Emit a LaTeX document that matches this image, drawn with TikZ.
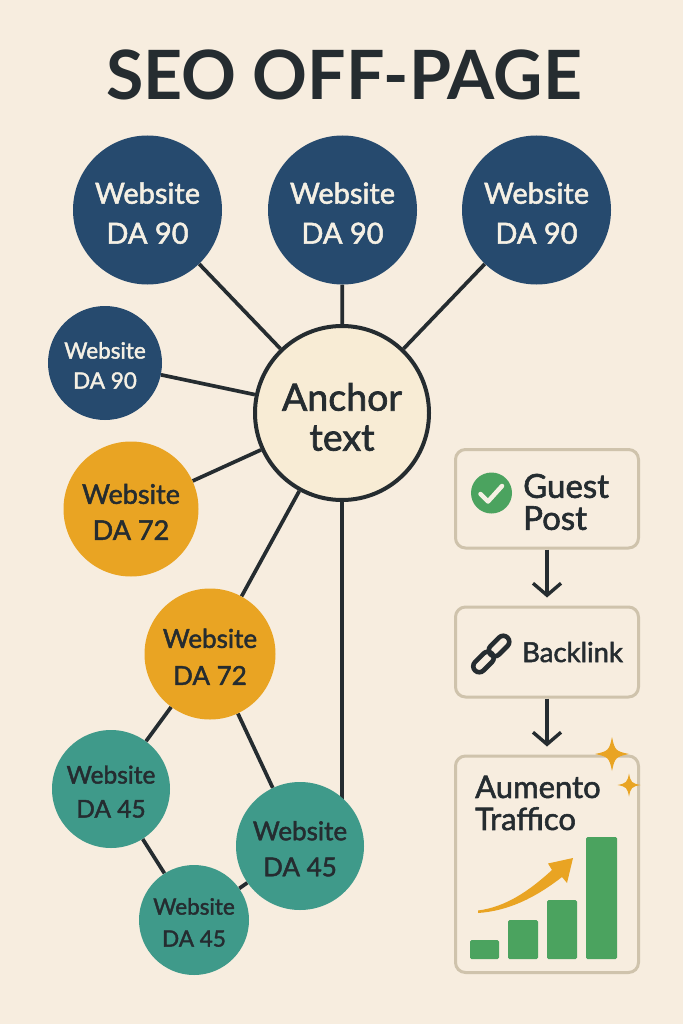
\documentclass[tikz,border=0pt]{standalone}
\usepackage{fontspec}
\setmainfont{Lato}
\newfontfamily\medfont{Lato}[FakeBold=1.8]
\usetikzlibrary{arrows.meta,backgrounds}
\definecolor{bgc}{HTML}{F7EDDF}
\definecolor{inkc}{HTML}{252C30}
\definecolor{navyc}{HTML}{264A6E}
\definecolor{orangec}{HTML}{E9A423}
\definecolor{tealc}{HTML}{3F9A8A}
\definecolor{greenc}{HTML}{4BA35F}
\definecolor{framec}{HTML}{CFC3AC}
\definecolor{anchorc}{HTML}{F8ECD5}
\definecolor{paletext}{HTML}{F5F0E4}
\tikzset{
  site/.style={circle,inner sep=0pt,align=center},
  navy/.style={site,fill=navyc,text=paletext},
  amber/.style={site,fill=orangec,text=inkc},
  teal/.style={site,fill=tealc,text=inkc},
  link/.style={draw=inkc,line width=3.7pt},
  stepbox/.style={draw=framec,line width=3pt,rounded corners=10pt,fill=bgc,anchor=north west,inner sep=0pt},
  flow/.style={draw=inkc,line width=3.4pt,-{Straight Barb[length=12pt,width=28pt,line width=3.4pt]},shorten >=8pt},
  label/.style={inner sep=0pt,text=inkc,align=left,anchor=west},
  bar/.style={fill=greenc,rounded corners=1.5pt},
  sparkle/.pic={\fill[orangec] (1,0) .. controls (.22,.16) and (.16,.22) .. (0,1)
     .. controls (-.16,.22) and (-.22,.16) .. (-1,0)
     .. controls (-.22,-.16) and (-.16,-.22) .. (0,-1)
     .. controls (.16,-.22) and (.22,-.16) .. (1,0) -- cycle;}
}
\newcommand{\fs}[2]{\medfont\fontsize{#1}{#2}\selectfont}
\newcommand{\lowered}{\rule{0pt}{0.95em}}
\begin{document}
\begin{tikzpicture}[x=1pt,y=-1pt]
\useasboundingbox (0,0) rectangle (683,1024);
\begin{scope}[on background layer]
\fill[bgc] (0,0) rectangle (683,1024);
\end{scope}
\node[inner sep=0pt,text=inkc,font=\fontsize{68}{68}\selectfont\bfseries] (title) at (344,75) {SEO OFF-PAGE};

\node[navy,minimum size=149pt,font=\fs{29}{40}] (n1) at (147.5,210) {\lowered Website\\DA 90};
\node[navy,minimum size=149pt,font=\fs{29}{40}] (n2) at (342.5,210) {\lowered Website\\DA 90};
\node[navy,minimum size=149pt,font=\fs{29}{40}] (n3) at (536.5,210) {\lowered Website\\DA 90};
\node[navy,minimum size=114pt,font=\fs{22.5}{30}] (n4) at (105,363) {\lowered Website\\DA 90};
\node[amber,minimum size=135pt,font=\fs{27}{36}] (o1) at (131,509) {\lowered Website\\DA 72};
\node[amber,minimum size=131pt,font=\fs{26}{37}] (o2) at (210,654) {\lowered Website\\DA 72};
\node[teal,minimum size=118pt,font=\fs{24.5}{34}] (t1) at (111,789) {\lowered Website\\DA 45};
\node[teal,minimum size=128pt,font=\fs{26}{36}] (t2) at (300,846) {\lowered Website\\DA 45};
\node[teal,minimum size=110pt,font=\fs{22.5}{32}] (t3) at (194,920) {\lowered Website\\DA 45};
\node[circle,draw=inkc,line width=4pt,fill=anchorc,minimum size=174pt,inner sep=0pt,align=center,text=inkc,font=\fs{37.5}{40}] (anc) at (342,413) {\lowered Anchor\\text};

\begin{scope}[on background layer]
\foreach \a in {n1,n2,n3,n4,o1,o2} \draw[link] (\a) -- (anc);
\draw[link] (anc) -- (anc |- t2);
\draw[link] (o2) -- (t1);
\draw[link] (o2) -- (t2);
\draw[link] (t1) -- (t3);
\draw[link] (t2) -- (t3);
\end{scope}

% process boxes
\node[stepbox,minimum width=183pt,minimum height=98.5pt] (guest) at (454,448) {};
\node[stepbox,minimum width=183pt,minimum height=90pt] (back) at (454,605.5) {};
\node[stepbox,minimum width=183pt,minimum height=216.5pt] (traffic) at (454,754.5) {};
\draw[flow] (guest) -- (back);
\draw[flow] (back) -- (traffic);

\node[circle,fill=greenc,minimum size=41pt,inner sep=0pt] (tick) at (491.5,493) {};
\draw[paletext,line width=4.5pt,line cap=round,line join=round] (480.5,494) -- (488,501.5) -- (502,486);
\node[label,font=\fs{33}{32}] (gt) at (523,502) {Guest\\Post};

\node[draw=inkc,line width=4.6pt,rounded corners=6pt,rotate=45,minimum width=24pt,minimum height=12pt,inner sep=0pt] (c1) at (499,646) {};
\node[draw=inkc,line width=4.6pt,rounded corners=6pt,rotate=45,minimum width=24pt,minimum height=12pt,inner sep=0pt] (c2) at (483.5,662) {};
\node[label,font=\fs{27.5}{30}] (bt) at (522,652) {Backlink};

\node[label,font=\fs{31}{32}] (at) at (475,803) {Aumento\\Traffico};

\fill[bar] (470,940) rectangle (499,959);
\fill[bar] (508,920) rectangle (538,959);
\fill[bar] (547,900) rectangle (577,959);
\fill[bar] (586,837) rectangle (617,959);

\fill[orangec] (478,910.5) .. controls (505,907) and (528,892) .. (552,870)
  -- (548,863.5) -- (573,858) -- (567,883) -- (562,877)
  .. controls (535,898) and (508,911) .. (478,913) -- cycle;

\pic[scale=17] at (612,754) {sparkle};
\pic[scale=11.5] at (629,785) {sparkle};
\end{tikzpicture}
\end{document}
